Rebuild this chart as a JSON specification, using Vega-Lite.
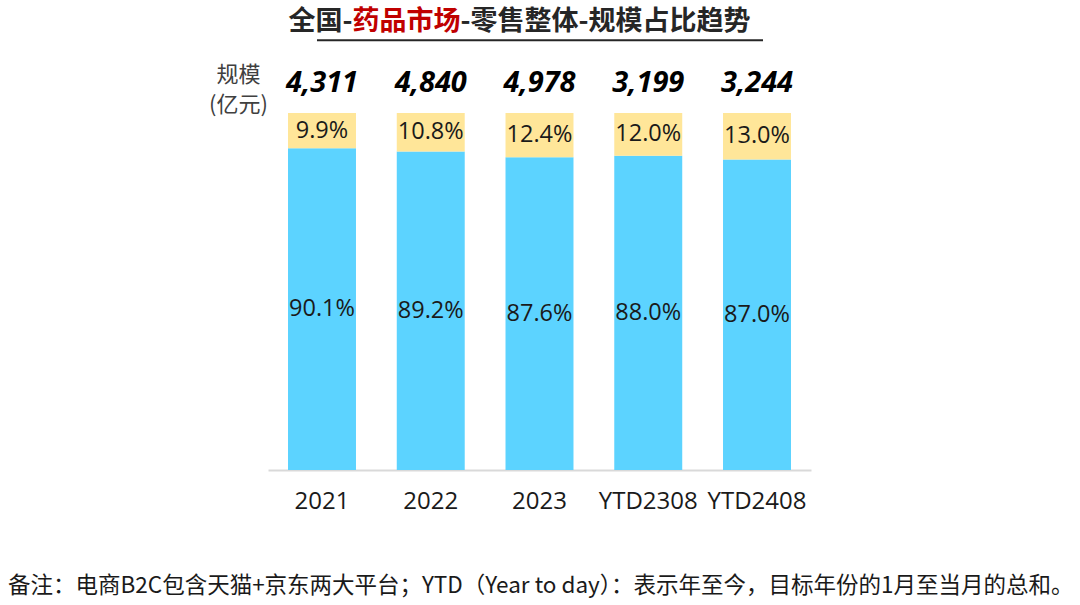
{
  "$schema": "https://vega.github.io/schema/vega-lite/v6.json",
  "width": 543,
  "height": 357,
  "autosize": {"type": "none"},
  "padding": {"left": 268, "top": 113, "right": 269, "bottom": 135},
  "background": "white",
  "datasets": {
    "shares": [
      {"cat": "2021", "seg": "实体药店", "share": 90.1},
      {"cat": "2021", "seg": "电商B2C", "share": 9.9},
      {"cat": "2022", "seg": "实体药店", "share": 89.2},
      {"cat": "2022", "seg": "电商B2C", "share": 10.8},
      {"cat": "2023", "seg": "实体药店", "share": 87.6},
      {"cat": "2023", "seg": "电商B2C", "share": 12.4},
      {"cat": "YTD2308", "seg": "实体药店", "share": 88.0},
      {"cat": "YTD2308", "seg": "电商B2C", "share": 12.0},
      {"cat": "YTD2408", "seg": "实体药店", "share": 87.0},
      {"cat": "YTD2408", "seg": "电商B2C", "share": 13.0}
    ],
    "totals": [
      {"cat": "2021", "total": 4311},
      {"cat": "2022", "total": 4840},
      {"cat": "2023", "total": 4978},
      {"cat": "YTD2308", "total": 3199},
      {"cat": "YTD2408", "total": 3244}
    ],
    "one": [{"k": 1}]
  },
  "title": {
    "text": "备注：电商B2C包含天猫+京东两大平台；YTD（Year to day）：表示年至今，目标年份的1月至当月的总和。",
    "orient": "bottom",
    "anchor": "start",
    "frame": "group",
    "dx": -260,
    "offset": 62,
    "baseline": "top",
    "font": "Noto Sans CJK SC",
    "fontSize": 22.5,
    "fontWeight": "normal",
    "color": "#1a1a1a"
  },
  "layer": [
    {
      "data": {"name": "shares"},
      "transform": [
        {"stack": "share", "groupby": ["cat"], "sort": [{"field": "seg", "order": "ascending"}], "as": ["y0", "y1"]}
      ],
      "mark": {"type": "bar"},
      "encoding": {
        "x": {
          "field": "cat", "type": "nominal", "title": null,
          "scale": {"paddingInner": 0.375, "paddingOuter": 0.184},
          "axis": {
            "labelAngle": 0, "labelFontSize": 24, "labelFont": "Open Sans", "labelColor": "#1a1a1a",
            "labelPadding": 19, "ticks": false, "domainColor": "#d9d9d9", "domainWidth": 2
          }
        },
        "y": {
          "field": "y1", "type": "quantitative",
          "scale": {"domain": [0, 100], "nice": false},
          "axis": {
            "title": ["规模", "(亿元)"], "titleAngle": 0, "titleAlign": "center", "titleBaseline": "top",
            "titleX": -30, "titleY": -49, "titleFont": "Noto Sans CJK SC", "titleFontSize": 22,
            "titleFontWeight": "normal", "titleColor": "#404040", "titleLineHeight": 30,
            "labels": false, "ticks": false, "domain": false, "grid": false
          }
        },
        "y2": {"field": "y0"},
        "color": {
          "field": "seg", "type": "nominal", "legend": null,
          "scale": {"domain": ["实体药店", "电商B2C"], "range": ["#5CD3FF", "#FFE699"]}
        }
      }
    },
    {
      "data": {"name": "shares"},
      "transform": [
        {"stack": "share", "groupby": ["cat"], "sort": [{"field": "seg", "order": "ascending"}], "as": ["y0", "y1"]},
        {"calculate": "(datum.y0 + datum.y1) / 2", "as": "ymid"},
        {"calculate": "format(datum.share, '.1f') + '%'", "as": "lbl"}
      ],
      "mark": {"type": "text", "font": "Open Sans", "fontSize": 23.5, "color": "#1a1a1a", "baseline": "middle"},
      "encoding": {
        "x": {"field": "cat", "type": "nominal"},
        "y": {"field": "ymid", "type": "quantitative"},
        "text": {"field": "lbl"}
      }
    },
    {
      "data": {"name": "totals"},
      "mark": {"type": "text", "font": "Open Sans", "fontSize": 29, "fontWeight": "bold", "fontStyle": "italic", "color": "#000000", "baseline": "middle"},
      "encoding": {
        "x": {"field": "cat", "type": "nominal"},
        "y": {"datum": 108.4, "type": "quantitative"},
        "text": {"field": "total", "format": ","}
      }
    },
    {
      "data": {"name": "one"},
      "mark": {"type": "text", "font": "Noto Sans CJK SC", "fontSize": 27, "fontWeight": "bold", "color": "#262626", "align": "right", "baseline": "middle", "dx": -187},
      "encoding": {
        "x": {"datum": "2023", "type": "nominal"},
        "y": {"datum": 125.5, "type": "quantitative"},
        "text": {"value": "全国-"}
      }
    },
    {
      "data": {"name": "one"},
      "mark": {"type": "text", "font": "Noto Sans CJK SC", "fontSize": 27, "fontWeight": "bold", "color": "#C00000", "align": "left", "baseline": "middle", "dx": -187},
      "encoding": {
        "x": {"datum": "2023", "type": "nominal"},
        "y": {"datum": 125.5, "type": "quantitative"},
        "text": {"value": "药品市场"}
      }
    },
    {
      "data": {"name": "one"},
      "mark": {"type": "text", "font": "Noto Sans CJK SC", "fontSize": 27, "fontWeight": "bold", "color": "#262626", "align": "left", "baseline": "middle", "dx": -79},
      "encoding": {
        "x": {"datum": "2023", "type": "nominal"},
        "y": {"datum": 125.5, "type": "quantitative"},
        "text": {"value": "-零售整体-规模占比趋势"}
      }
    },
    {
      "data": {"name": "one"},
      "mark": {"type": "rule", "color": "#262626", "strokeWidth": 2, "xOffset": -5, "x2Offset": 6},
      "encoding": {
        "x": {"datum": "2021", "type": "nominal"},
        "x2": {"datum": "YTD2408"},
        "y": {"datum": 120.4, "type": "quantitative"}
      }
    }
  ],
  "config": {"view": {"stroke": null}}
}
